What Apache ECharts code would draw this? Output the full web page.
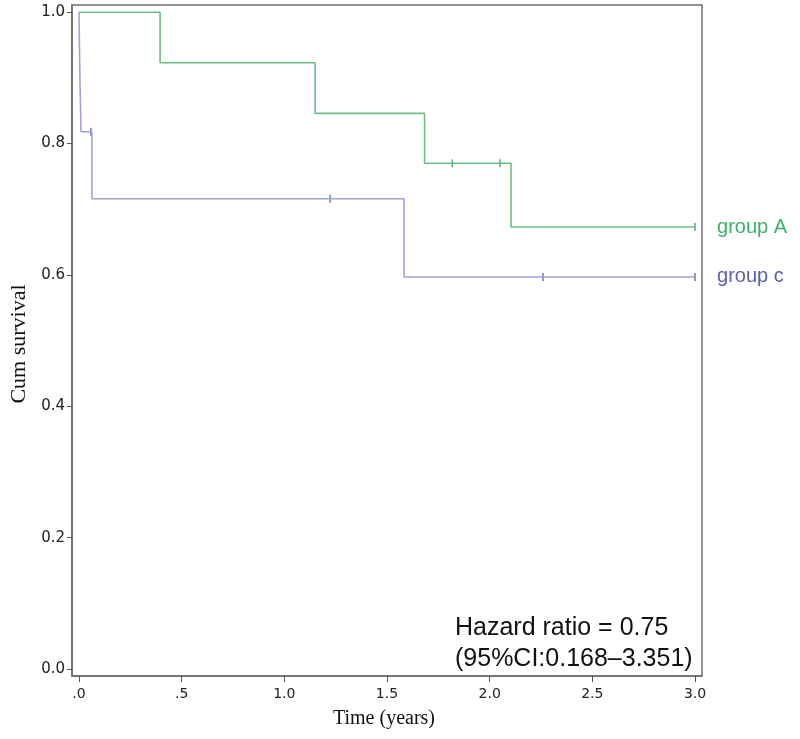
<!DOCTYPE html>
<html>
<head>
<meta charset="utf-8">
<script src="https://cdn.jsdelivr.net/npm/echarts@6/dist/echarts.min.js"></script>
<style>html,body{margin:0;padding:0;background:#fff;}#c{width:800px;height:739px;}</style>
</head>
<body>
<div id="c"></div>
<script>
// Group A (green): step times and survival after each step
const groupATimes = [0, 0.395, 1.15, 1.683, 2.104, 3.0];
const groupASurv  = [1.0, 0.923, 0.846, 0.770, 0.673, 0.673];
const groupACensor = [1.818, 2.05, 3.0];

// Group C (blue)
const groupCTimes = [0, 0.004, 0.01, 0.063, 1.583, 3.0];
const groupCSurv  = [1.0, 0.909, 0.818, 0.716, 0.597, 0.597];
const groupCCensor = [0.058, 1.223, 2.26, 3.0];

const xTicks = [0, 0.5, 1.0, 1.5, 2.0, 2.5, 3.0];
const xTickLabels = ['.0', '.5', '1.0', '1.5', '2.0', '2.5', '3.0'];
const yTicks = [0, 0.2, 0.4, 0.6, 0.8, 1.0];
const yTickLabels = ['0.0', '0.2', '0.4', '0.6', '0.8', '1.0'];

function stepPoints(times, surv) {
  const pts = [[times[0], surv[0]]];
  for (let i = 1; i < times.length; i++) {
    pts.push([times[i], surv[i - 1]]);
    if (surv[i] !== surv[i - 1]) pts.push([times[i], surv[i]]);
  }
  return pts;
}
function survAt(times, surv, t) {
  let v = surv[0];
  for (let i = 0; i < times.length; i++) if (times[i] <= t) v = surv[i];
  return v;
}
function censorPoints(times, surv, cens) {
  return cens.map(t => [t, survAt(times, surv, t)]);
}

const greenLine = '#6dbf86', greenMark = '#3f9e5c', greenText = '#3cb36a';
const blueLine = '#a0a3d6', blueMark = '#5560a3', blueText = '#5b5fb5';

const chart = echarts.init(document.getElementById('c'));
chart.setOption({
  animation: false,
  backgroundColor: '#fff',
  grid: { left: 72, top: 5, right: 98, bottom: 63, show: true, borderColor: '#6e6e6e', borderWidth: 1.5 },
  xAxis: {
    type: 'value', min: -0.034, max: 3.034,
    axisLine: { show: true, onZero: false, lineStyle: { color: '#6e6e6e', width: 1.5 } },
    axisTick: { show: true, length: 6, customValues: xTicks, lineStyle: { color: '#555' } },
    axisLabel: {
      customValues: xTicks, margin: 11, color: '#222',
      fontFamily: 'DejaVu Sans', fontSize: 14,
      formatter: v => xTickLabels[xTicks.findIndex(t => Math.abs(t - v) < 1e-6)]
    },
    splitLine: { show: false }
  },
  yAxis: {
    type: 'value', min: -0.0105, max: 1.011,
    axisLine: { show: true, onZero: false, lineStyle: { color: '#6e6e6e', width: 1.5 } },
    axisTick: { show: true, length: 5, customValues: yTicks, lineStyle: { color: '#555' } },
    axisLabel: {
      customValues: yTicks, margin: 7, color: '#222',
      fontFamily: 'DejaVu Sans', fontSize: 15,
      formatter: v => yTickLabels[yTicks.findIndex(t => Math.abs(t - v) < 1e-6)]
    },
    splitLine: { show: false }
  },
  series: [
    {
      type: 'line', data: stepPoints(groupATimes, groupASurv), symbol: 'none',
      lineStyle: { color: greenLine, width: 1.6 }, clip: false,
      endLabel: { show: true, formatter: 'group A', color: greenText, fontFamily: 'Liberation Sans', fontSize: 20, distance: 22 }
    },
    {
      type: 'line', data: stepPoints(groupCTimes, groupCSurv), symbol: 'none',
      lineStyle: { color: blueLine, width: 1.6 }, clip: false,
      endLabel: { show: true, formatter: 'group c', color: blueText, fontFamily: 'Liberation Sans', fontSize: 20, distance: 22 }
    },
    {
      type: 'scatter', data: censorPoints(groupATimes, groupASurv, groupACensor),
      symbol: 'rect', symbolSize: [1.6, 8], itemStyle: { color: greenMark }, clip: false
    },
    {
      type: 'scatter', data: censorPoints(groupCTimes, groupCSurv, groupCCensor),
      symbol: 'rect', symbolSize: [1.6, 8], itemStyle: { color: blueMark }, clip: false
    }
  ],
  graphic: [
    { type: 'text', left: 455, top: 616, style: { text: 'Hazard ratio = 0.75', fill: '#111', font: '25px "Liberation Sans"' } },
    { type: 'text', left: 455, top: 647, style: { text: '(95%CI:0.168\u20133.351)', fill: '#111', font: '25px "Liberation Sans"' } },
    { type: 'text', x: 384, y: 719, style: { text: 'Time (years)', fill: '#111', font: '20px "Liberation Serif"', align: 'center', verticalAlign: 'middle' } },
    { type: 'text', x: 19, y: 344, rotation: Math.PI / 2, style: { text: 'Cum survival', fill: '#111', font: '22px "Liberation Serif"', align: 'center', verticalAlign: 'middle' } }
  ]
});
</script>
</body>
</html>
